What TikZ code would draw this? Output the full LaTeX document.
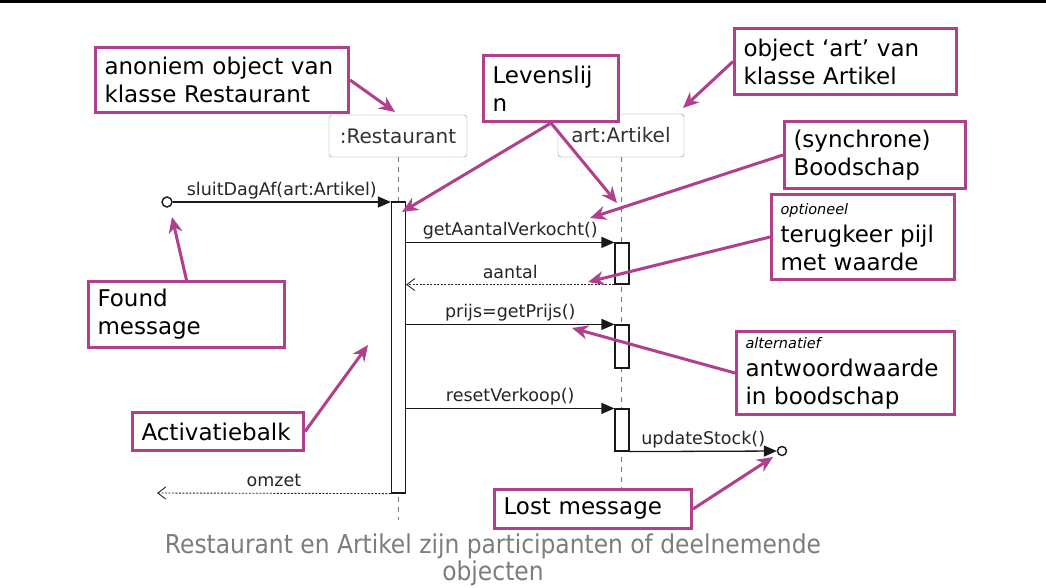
\documentclass[tikz,border=0pt]{standalone}
\usepackage{fontspec}
\setmainfont{DejaVu Sans}
\newfontfamily\condfont{DejaVu Sans Condensed}
\usetikzlibrary{arrows.meta,calc}
\definecolor{notepink}{RGB}{176,64,140}
\definecolor{captiongray}{RGB}{125,125,125}
\tikzset{notebox/.style={draw=notepink,line width=3pt,fill=white,anchor=north west,align=left,inner xsep=9pt,inner ysep=0pt,font=\fontsize{23}{28}\selectfont}}
\tikzset{pointer/.style={draw=notepink,line width=3pt,-{Stealth[length=16pt,width=14pt]}}}
\tikzset{participant/.style={draw=black!45,rounded corners=3pt,fill=white,font=\fontsize{20}{24}\selectfont,text=black!80,inner sep=0pt}}
\tikzset{lifeline/.style={draw=black!55,line width=1pt,dash pattern=on 5pt off 5pt}}
\tikzset{activation/.style={draw=black!90,line width=1.2pt,fill=white,minimum width=14pt,inner sep=0pt}}
\tikzset{msg/.style={draw=black!90,line width=1.3pt,-{Triangle[length=13pt,width=11pt]}}}
\tikzset{reply/.style={draw=black!85,line width=0.9pt,dash pattern=on 2pt off 1.5pt,-{Straight Barb[length=8pt,width=12pt]}}}
\tikzset{msglabel/.style={font=\fontsize{17.5}{20}\selectfont,text=black!85,inner sep=2pt,text depth=4pt}}
\tikzset{endpoint/.style={circle,draw=black!90,line width=1.4pt,fill=white,minimum size=10pt,inner sep=0pt}}

\begin{document}
\begin{tikzpicture}[x=1pt,y=-1pt]
    \useasboundingbox[fill=white] (0,0) rectangle (1046,588);
    \fill[black] (0,0) rectangle (1046,3.5);

    % participanten en levenslijnen
    \node[participant,minimum width=138pt,minimum height=42pt] (rest) at (398,136) {:Restaurant};
    \node[participant,minimum width=126pt,minimum height=43pt] (art) at (621,135.5) {art:Artikel};
    \coordinate (restend) at (398,520);
    \coordinate (artend) at (621,488);
        \draw[lifeline] (rest.south) -- (restend);
        \draw[lifeline] (art.south) -- (artend);

    % activatiebalken
    \node[activation,minimum height=291pt] (barR) at (398.5,347.5) {};
    \node[activation,minimum height=41pt] (barA1) at (622,263.5) {};
    \node[activation,minimum height=43pt] (barA2) at (622,346.5) {};
    \node[activation,minimum height=42pt] (barA3) at (622,430) {};

    % boodschappen
    \node[endpoint] (found) at (167,202) {};
        \draw[msg] (found) -- (found -| barR.west) node[msglabel,midway,above] (lsluit) {sluitDagAf(art:Artikel)};
        \draw[msg] (barR.east |- barA1.north) -- (barA1.north west) node[msglabel,midway,above] (lget) {getAantalVerkocht()};
        \draw[reply] (barA1.south west) -- (barR.east |- barA1.south) node[msglabel,midway,above] (laantal) {aantal};
        \draw[msg] (barR.east |- barA2.north) -- (barA2.north west) node[msglabel,midway,above] (lprijs) {prijs=getPrijs()};
        \draw[msg] (barR.east |- barA3.north) -- (barA3.north west) node[msglabel,midway,above] (lreset) {resetVerkoop()};
    \node[endpoint,minimum size=9pt] (lost) at (782,451) {};
        \draw[msg] (barA3.south east) -- (lost) node[msglabel,midway,above] (lupdate) {updateStock()};
    \coordinate (omzetend) at (157,493);
        \draw[reply] (barR.south west) -- (omzetend) node[msglabel,midway,above] (lomzet) {omzet};

    % uitleg
    \node[notebox,text width=235pt,minimum height=65pt] (anon) at (94,46) {anoniem object van\\klasse Restaurant};
    \node[notebox,text width=117pt,minimum height=66pt] (leven) at (482,54) {Levenslij\\n};
    \node[notebox,text width=204pt,minimum height=66pt] (objart) at (733,27) {object ‘art’ van\\klasse Artikel};
    \node[notebox,text width=163pt,minimum height=67pt] (sync) at (783,120) {(synchrone)\\Boodschap};
    \node[notebox,text width=165pt,minimum height=85pt] (optret) at (770,193) {{\fontsize{14.5}{17}\selectfont\itshape optioneel}\\terugkeer pijl\\met waarde};
    \node[notebox,text width=200pt,minimum height=83pt] (altval) at (735,330) {{\fontsize{14.5}{17}\selectfont\itshape alternatief}\\antwoordwaarde\\in boodschap};
    \node[notebox,text width=178pt,minimum height=66pt] (foundnote) at (87,280) {Found\\message};
    \node[notebox,text width=153pt,minimum height=38pt] (actnote) at (131,411) {Activatiebalk};
    \node[notebox,text width=179pt,minimum height=39pt] (lostnote) at (493,488) {Lost message};

    \coordinate (tipRest) at (395,112);
    \coordinate (tipActR) at (402,212);
    \coordinate (tipLife) at (617,203);
    \coordinate (tipArt) at (683,108);
    \coordinate (tipSync) at (590,218);
    \coordinate (tipRet) at (588,282);
    \coordinate (tipAlt) at (572,328);
    \coordinate (tipFound) at (172,217);
    \coordinate (tipBar) at (368,345);
    \coordinate (tipLost) at (773,457);
        \draw[pointer] (anon.east) -- (tipRest);
        \draw[pointer] (leven.south) -- (tipActR);
        \draw[pointer] (leven.south) -- (tipLife);
        \draw[pointer] (objart.west) -- (tipArt);
        \draw[pointer] (sync.west) -- (tipSync);
        \draw[pointer] (optret.west) -- (tipRet);
        \draw[pointer] (altval.west) -- (tipAlt);
        \draw[pointer] (foundnote.north) -- (tipFound);
        \draw[pointer] (actnote.east) -- (tipBar);
        \draw[pointer] (lostnote.east) -- (tipLost);

    \node[font=\condfont\fontsize{26}{27}\selectfont,text=captiongray,align=center] (caption) at (493,560) {Restaurant en Artikel zijn participanten of deelnemende\\objecten};
\end{tikzpicture}
\end{document}
